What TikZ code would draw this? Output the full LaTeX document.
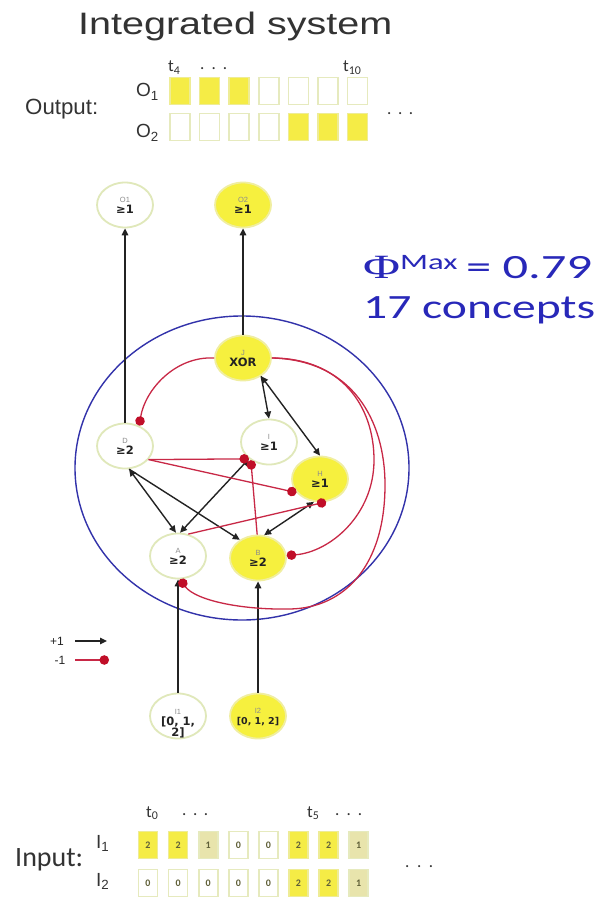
\documentclass[tikz,border=0pt]{standalone}
\usepackage{fontspec}
\setmainfont{Liberation Sans}
\newfontfamily\calfont{Carlito}
\newfontfamily\dejafont{DejaVu Sans}
\newfontfamily\serfont{Liberation Serif}
\usetikzlibrary{shapes.geometric,arrows.meta}
\definecolor{ny}{RGB}{246,240,62}
\definecolor{nyedge}{RGB}{240,238,160}
\definecolor{nwedge}{RGB}{224,232,186}
\definecolor{egray}{RGB}{35,35,35}
\definecolor{ired}{RGB}{200,40,70}
\definecolor{idot}{RGB}{192,14,40}
\definecolor{cblue}{RGB}{50,50,170}
\definecolor{tblue}{RGB}{40,40,185}
\definecolor{cellY}{RGB}{245,236,70}
\definecolor{cellYedge}{RGB}{238,236,150}
\definecolor{cellK}{RGB}{232,228,172}
\definecolor{celledge}{RGB}{230,234,190}
\definecolor{labgray}{RGB}{140,140,140}
\definecolor{numcol}{RGB}{95,95,55}
\newcommand\nlab[1]{{\fontsize{7.5}{8}\selectfont\color{labgray}#1}}
\newcommand\nval[1]{{\dejafont\bfseries\fontsize{11.5}{12}\selectfont #1}}
\newcommand\tdots[1]{\makebox[#1][s]{.\hfill.\hfill.}}
\tikzset{
  unitnode/.style={ellipse, minimum width=56pt, minimum height=45pt, inner sep=0pt, line width=1.8pt, align=center, text=egray},
  wnode/.style={unitnode, draw=nwedge, fill=white},
  ynode/.style={unitnode, draw=nyedge, fill=ny},
  exc/.style={draw=egray, line width=1.4pt, -{Triangle[length=7pt,width=6.5pt]}},
  excb/.style={draw=egray, line width=1.4pt, {Triangle[length=7pt,width=6.5pt]}-{Triangle[length=7pt,width=6.5pt]}},
  inh/.style={draw=ired, line width=1.3pt, -{Circle[length=9.5pt,color=idot]}},
  cell/.style={draw=celledge, line width=1.6pt, minimum width=19pt, minimum height=27pt, inner sep=0pt, font=\calfont\bfseries\fontsize{10}{10}\selectfont, text=numcol},
  c0/.style={fill=white},
  c1/.style={fill=cellK},
  c2/.style={fill=cellY, draw=cellYedge},
  txt/.style={anchor=base west, inner sep=0pt, text=black!80},
}
\begin{document}
\begin{tikzpicture}[x=1pt,y=-1pt]
\useasboundingbox (0,0) rectangle (599,901);
\fill[white] (0,0) rectangle (599,901);

% title and output rows
\node[txt, font=\fontsize{31}{31}\selectfont] (title) at (78,35) {\resizebox{314pt}{\height}{Integrated system}};
\node[txt, font=\fontsize{22}{22}\selectfont] (outl) at (25,115) {\resizebox{73pt}{\height}{Output:}};
\node[txt, font=\fontsize{19}{19}\selectfont] (o1l) at (136,97) {O\textsubscript{1}};
\node[txt, font=\fontsize{19}{19}\selectfont] (o2l) at (136,138) {O\textsubscript{2}};
\node[txt, font=\calfont\fontsize{17}{17}\selectfont] (t4) at (168,72) {t\textsubscript{4}};
\node[txt, font=\calfont\fontsize{17}{17}\selectfont] (tdA) at (200,70) {\tdots{27pt}};
\node[txt, font=\calfont\fontsize{17}{17}\selectfont] (t10) at (343,72) {t\textsubscript{10}};
\node[txt, font=\calfont\fontsize{17}{17}\selectfont] (tdB) at (387,115) {\tdots{26pt}};
\foreach \v [count=\i] in {2,2,2,0,0,0,0} {
  \node[cell, c\v, minimum width=20pt] (oa\i) at ({180+29.6*(\i-1)},91) {};
}
\foreach \v [count=\i] in {0,0,0,0,2,2,2} {
  \node[cell, c\v, minimum width=20pt] (ob\i) at ({180+29.6*(\i-1)},127) {};
}

% phi text
\node[txt, text=tblue, font=\calfont\fontsize{34}{34}\selectfont] (phi) at (363,278)
  {\resizebox{229pt}{\height}{{\serfont Φ}\raisebox{9pt}{\fontsize{22}{22}\selectfont Max}\,= 0.79}};
\node[txt, text=tblue, font=\calfont\fontsize{34}{34}\selectfont] (conc) at (363,318)
  {\resizebox{232pt}{\height}{17 concepts}};

% blue boundary
\draw[cblue, line width=1.4pt] (242,468) ellipse [x radius=167, y radius=152];

% nodes
\node[wnode] (O1) at (125,205) {\nlab{O1}\\[-1pt]\nval{≥1}};
\node[ynode] (O2) at (243,205) {\nlab{O2}\\[-1pt]\nval{≥1}};
\node[ynode] (J) at (243,358) {\nlab{J}\\[-1pt]\nval{XOR}};
\node[wnode] (D) at (125,446) {\nlab{D}\\[-1pt]\nval{≥2}};
\node[wnode] (I) at (269,442) {\nlab{I}\\[-1pt]\nval{≥1}};
\node[ynode] (H) at (320,479) {\nlab{H}\\[-1pt]\nval{≥1}};
\node[wnode] (A) at (178,556) {\nlab{A}\\[-1pt]\nval{≥2}};
\node[ynode] (B) at (258,558) {\nlab{B}\\[-1pt]\nval{≥2}};
\node[wnode] (I1) at (178,716) {};
\node[ynode] (I2) at (258,716) {};
\node[align=center, inner sep=0pt, text=egray] (I1t) at (178,724) {\nlab{I1}\\[-1pt]\nval{[0, 1,}\\[-1pt]\nval{2]}};
\node[align=center, inner sep=0pt, text=egray] (I2t) at (258,717) {\nlab{I2}\\[-1pt]{\dejafont\bfseries\fontsize{9.5}{11}\selectfont [0, 1, 2]}};

% excitatory connections
\draw[exc] (D.north) -- (O1.south);
\draw[exc] (J.north) -- (O2.south);
\draw[exc] (I1.north) -- (A.south);
\draw[exc] (I2.north) -- (B.south);
\draw[exc] (J.-45) -- (I.north);
\draw[excb] (J.-45) -- (H.north);
\draw[excb] (D.-80) -- (A.95);
\draw[exc] (D.-80) -- (B.135);
\draw[excb] (A.85) -- (I.220);
\draw[excb] (B.75) -- (H.255);

% inhibitory connections
\draw[inh] (D.-30) -- (I.220);
\draw[inh] (D.-30) -- (H.210);
\draw[inh] (B.92) -- (I.225);
\draw[inh] (A.65) -- (H.285);
\draw[inh] (J.west) .. controls (175,356) and (145,390) .. (D.55);
\draw[inh] (J.east) .. controls (340,358) and (374,405) .. (374,460) .. controls (374,515) and (330,552) .. (B.5);
\draw[inh] (J.east) .. controls (352,360) and (385,420) .. (385,485) .. controls (385,565) and (345,608) .. (290,609) .. controls (240,610) and (195,600) .. (A.-85);

% legend
\node[inner sep=0pt, font=\fontsize{12}{12}\selectfont, text=egray] (lp) at (57,641) {+1};
\node[inner sep=0pt, font=\fontsize{12}{12}\selectfont, text=egray] (lm) at (60,660) {-1};
\coordinate (lps) at (75,641);
\coordinate (lpe) at (107,641);
\coordinate (lms) at (75,660);
\coordinate (lme) at (109,660);
\draw[exc] (lps) -- (lpe);
\draw[inh] (lms) -- (lme);

% input rows
\node[txt, font=\calfont\fontsize{28}{28}\selectfont] (inl) at (15,866) {\resizebox{68pt}{\height}{Input:}};
\node[txt, font=\fontsize{19}{19}\selectfont] (i1l) at (96,848) {I\textsubscript{1}};
\node[txt, font=\fontsize{19}{19}\selectfont] (i2l) at (96,886) {I\textsubscript{2}};
\node[txt, font=\calfont\fontsize{17}{17}\selectfont] (t0) at (146,817) {t\textsubscript{0}};
\node[txt, font=\calfont\fontsize{17}{17}\selectfont] (tdC) at (182,815) {\tdots{26pt}};
\node[txt, font=\calfont\fontsize{17}{17}\selectfont] (t5) at (307,817) {t\textsubscript{5}};
\node[txt, font=\calfont\fontsize{17}{17}\selectfont] (tdD) at (335,815) {\tdots{27pt}};
\node[txt, font=\calfont\fontsize{17}{17}\selectfont] (tdE) at (405,867) {\tdots{28pt}};
\foreach \v [count=\i] in {2,2,1,0,0,2,2,1} {
  \node[cell, c\v] (ia\i) at ({148+30.1*(\i-1)},845) {\v};
}
\foreach \v [count=\i] in {0,0,0,0,0,2,2,1} {
  \node[cell, c\v] (ib\i) at ({148+30.1*(\i-1)},883) {\v};
}
\end{tikzpicture}
\end{document}
